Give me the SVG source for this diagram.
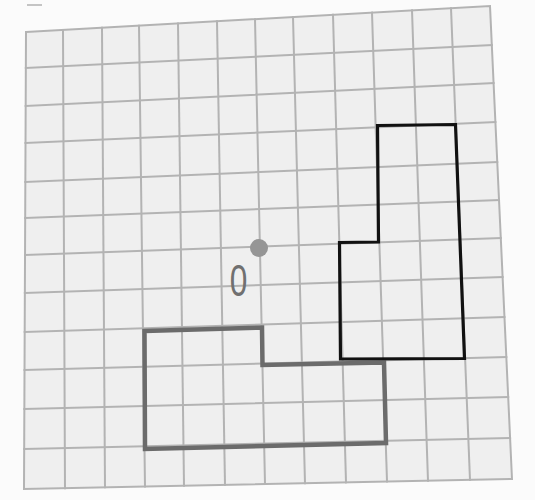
<svg xmlns="http://www.w3.org/2000/svg" width="535" height="500" viewBox="0 0 535 500">
<style>
.g line{stroke:#b3b3b3;stroke-width:2;stroke-linecap:square}
.frame{fill:#efefef;stroke:#b3b3b3;stroke-width:2}
</style>
<rect x="0" y="0" width="535" height="500" fill="#fbfbfb"/>
<line x1="27" y1="5" x2="42" y2="5" stroke="#c4c4c4" stroke-width="2"/>
<g id="grid">
<polygon class="frame" points="26,32 490,6 512,479 24,489"/>
<g class="g">
<line x1="63" y1="29.93" x2="65" y2="488.16"/>
<line x1="102" y1="27.74" x2="105" y2="487.34"/>
<line x1="139" y1="25.67" x2="145" y2="486.52"/>
<line x1="178" y1="23.48" x2="184" y2="485.72"/>
<line x1="217" y1="21.3" x2="225" y2="484.88"/>
<line x1="255" y1="19.17" x2="265" y2="484.06"/>
<line x1="293" y1="17.04" x2="305" y2="483.24"/>
<line x1="333" y1="14.8" x2="346" y2="482.4"/>
<line x1="372" y1="12.61" x2="387" y2="481.56"/>
<line x1="412" y1="10.37" x2="428" y2="480.72"/>
<line x1="451" y1="8.19" x2="470" y2="479.86"/>
<line x1="25.84" y1="68" x2="491.81" y2="45"/>
<line x1="25.68" y1="106" x2="493.58" y2="83"/>
<line x1="25.51" y1="143" x2="495.4" y2="122"/>
<line x1="25.34" y1="182" x2="497.26" y2="162"/>
<line x1="25.19" y1="218" x2="499.02" y2="200"/>
<line x1="25.02" y1="255" x2="500.79" y2="238"/>
<line x1="24.86" y1="293" x2="502.6" y2="277"/>
<line x1="24.69" y1="332" x2="504.46" y2="317"/>
<line x1="24.52" y1="370" x2="506.33" y2="357"/>
<line x1="24.35" y1="409" x2="508.19" y2="397"/>
<line x1="24.18" y1="449" x2="510.09" y2="438"/>
</g>
</g>
<g id="shape-gray">
<polygon points="144.5,331 262,327.5 262.5,365 384,362.5 386,443 145,449" fill="none" stroke="#6b6b6b" stroke-width="4.5" stroke-linejoin="miter"/>
</g>
<g id="shape-black">
<polygon points="377.5,125.5 455.5,124.5 464.5,358.5 340.5,359 339.5,242.5 378.5,242" fill="none" stroke="#111111" stroke-width="3.2" stroke-linejoin="miter"/>
</g>
<g id="dot">
<circle cx="259" cy="248" r="9" fill="#959595"/>
</g>
<g id="label">
<text transform="translate(238.5,296) scale(0.72,1)" text-anchor="middle" font-family="Liberation Sans, Arial, sans-serif" font-size="44" fill="#707070">0</text>
</g>
</svg>
